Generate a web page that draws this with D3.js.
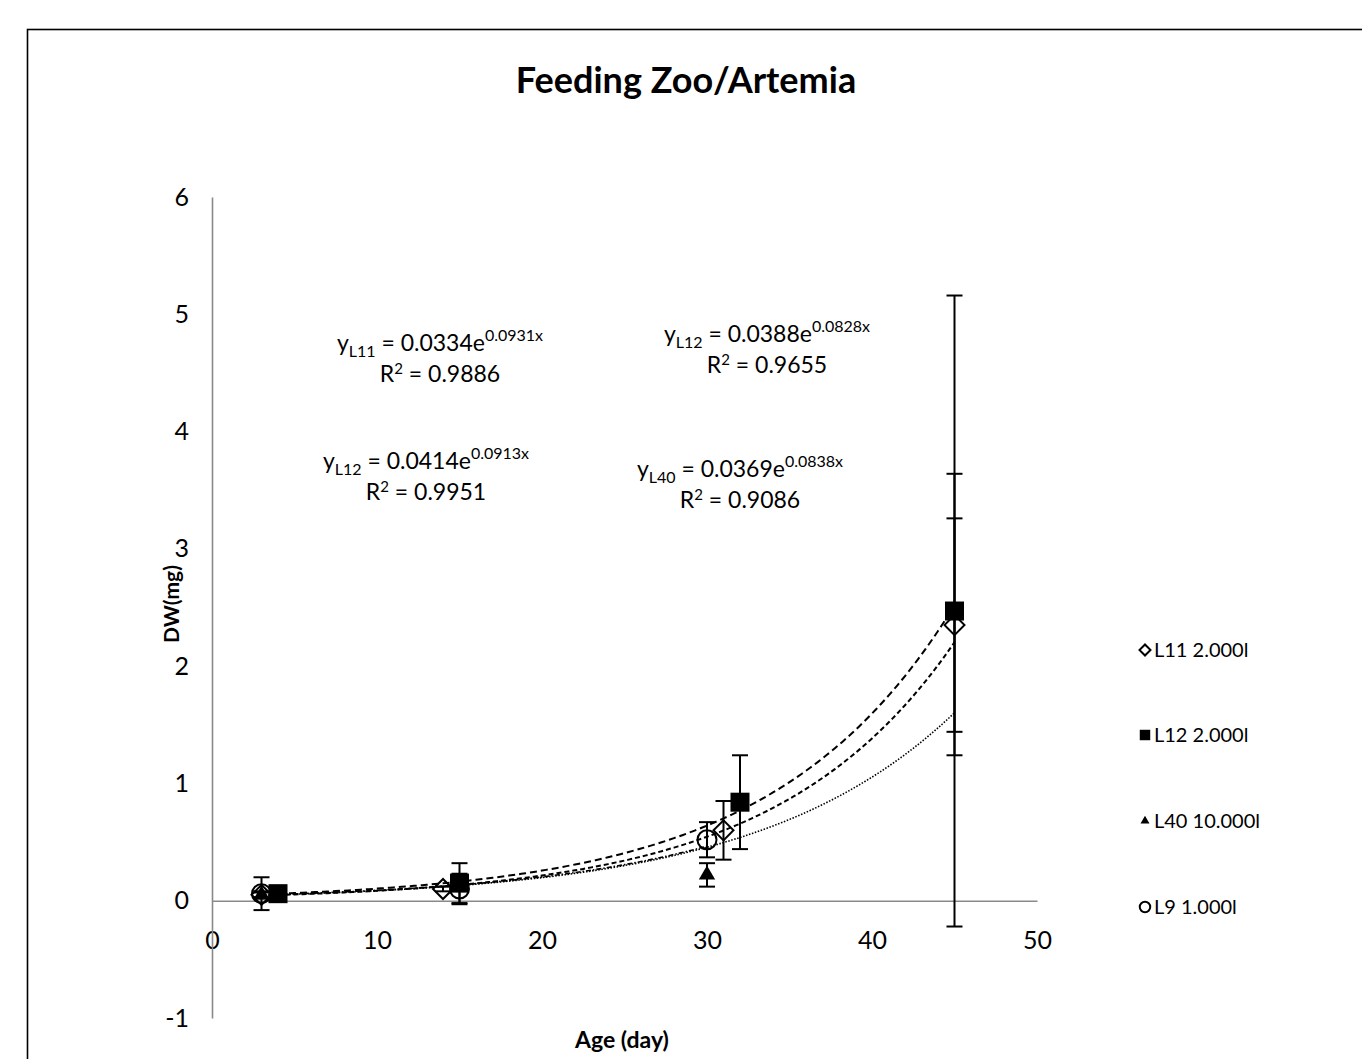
<!DOCTYPE html>
<html>
<head>
<meta charset="utf-8">
<script src="https://cdn.jsdelivr.net/npm/d3@7"></script>
<style>
  body { margin: 0; background: #fff; }
  text { font-family: Lato, "Open Sans", sans-serif; fill: #000; }
</style>
</head>
<body>
<div id="chart"></div>
<script>
// series values
const seriesNames = ["L11 2.000l", "L12 2.000l", "L40 10.000l", "L9 1.000l"]

const l11Age = [3, 14, 31, 45]
const l11DW = [0.05, 0.10, 0.60, 2.35]
const l11Err = [0.03, 0.02, 0.25, 0.91]

const l12Age = [4, 15, 32, 45]
const l12DW = [0.06, 0.15, 0.84, 2.47]
const l12Err = [0.02, 0.17, 0.40, 2.69]

// last L40 point is hidden behind the L12 square
const l40Age = [3, 30, 45]
const l40DW = [0.05, 0.22, 2.44]
const l40Err = [0.02, 0.10, 1.20]

const l9Age = [3, 15, 30]
const l9DW = [0.06, 0.10, 0.52]
const l9Err = [0.14, 0.13, 0.15]

// exponential trendlines y = a e^(b x), as printed on the chart
const fitA = [0.0334, 0.0414, 0.0369, 0.0388]
const fitB = [0.0931, 0.0913, 0.0838, 0.0828]
const fitFrom = [3, 4, 3, 3]
const fitTo = [45, 45, 45, 30]

// equation labels
const eqSub = ["L11", "L12", "L40", "L12"]
const eqCoef = ["0.0334", "0.0414", "0.0369", "0.0388"]
const eqExp = ["0.0931x", "0.0913x", "0.0838x", "0.0828x"]
const eqR2 = ["0.9886", "0.9951", "0.9086", "0.9655"]

const xTicks = [0, 10, 20, 30, 40, 50]
const yTicks = [-1, 0, 1, 2, 3, 4, 5, 6]

const width = 1362
const height = 1059

const svg = d3.select("#chart").append("svg")
  .attr("width", width)
  .attr("height", height)

// chart area border
svg.append("rect")
  .attr("x", 27.5).attr("y", 29.5)
  .attr("width", 1400).attr("height", 1100)
  .attr("fill", "#fff")
  .attr("stroke", "#000")
  .attr("stroke-width", 1.6)

const x = d3.scaleLinear().domain([0, 50]).range([212, 1037])
const y = d3.scaleLinear().domain([-1, 6]).range([1018, 197])

// title
svg.append("text")
  .attr("x", 686).attr("y", 93)
  .attr("text-anchor", "middle")
  .style("font-size", "36px").style("font-weight", "bold")
  .text("Feeding Zoo/Artemia")

// axes
svg.append("g")
  .attr("transform", "translate(0," + y(0) + ")")
  .call(d3.axisBottom(x).tickValues(xTicks).tickSize(0).tickPadding(31).tickFormat(d => String(d)))
svg.append("g")
  .attr("transform", "translate(" + x(0) + ",0)")
  .call(d3.axisLeft(y).tickValues(yTicks).tickSize(0).tickPadding(23).tickFormat(d => String(d)))

svg.selectAll(".domain").attr("stroke", "#898989").attr("stroke-width", 1.6)
svg.selectAll(".tick text")
  .style("font-family", "Lato, sans-serif")
  .style("font-size", "25px")
  .attr("fill", "#000")

// axis titles
svg.append("text")
  .attr("transform", "translate(179,604) rotate(-90)")
  .attr("text-anchor", "middle")
  .style("font-size", "21px").style("font-weight", "bold")
  .text("DW(mg)")
svg.append("text")
  .attr("x", 622).attr("y", 1048)
  .attr("text-anchor", "middle")
  .style("font-size", "23px").style("font-weight", "bold")
  .text("Age (day)")

// trendlines
const dashes = ["5,3", "7,4", "1.5,1.6", "5,2,1.5,2"]
const widths = [2, 2, 1.6, 1.6]
const line = d3.line().x(d => x(d[0])).y(d => y(d[1]))
fitA.forEach((a, i) => {
  const pts = d3.range(fitFrom[i], fitTo[i] + 0.001, 0.25).map(v => [v, a * Math.exp(fitB[i] * v)])
  svg.append("path")
    .attr("d", line(pts))
    .attr("fill", "none")
    .attr("stroke", "#000")
    .attr("stroke-width", widths[i])
    .attr("stroke-dasharray", dashes[i])
})

const series = [
  { name: seriesNames[0], age: l11Age, dw: l11DW, err: l11Err, shape: "diamond" },
  { name: seriesNames[1], age: l12Age, dw: l12DW, err: l12Err, shape: "square" },
  { name: seriesNames[2], age: l40Age, dw: l40DW, err: l40Err, shape: "triangle" },
  { name: seriesNames[3], age: l9Age, dw: l9DW, err: l9Err, shape: "circle" },
]

// error bars
series.forEach(s => {
  const g = svg.append("g").attr("stroke", "#000").attr("stroke-width", 2)
  s.age.forEach((a, i) => {
    const cx = x(a)
    const hi = y(s.dw[i] + s.err[i])
    const lo = y(s.dw[i] - s.err[i])
    g.append("line").attr("x1", cx).attr("x2", cx).attr("y1", hi).attr("y2", lo)
    g.append("line").attr("x1", cx - 8).attr("x2", cx + 8).attr("y1", hi).attr("y2", hi)
    g.append("line").attr("x1", cx - 8).attr("x2", cx + 8).attr("y1", lo).attr("y2", lo)
  })
})

function marker(g, shape, cx, cy, k) {
  if (shape === "square") {
    g.append("rect").attr("x", cx - 9.5 * k).attr("y", cy - 9.5 * k)
      .attr("width", 19 * k).attr("height", 19 * k).attr("fill", "#000")
  } else if (shape === "diamond") {
    g.append("path")
      .attr("d", d3.symbol().type(d3.symbolSquare).size(200 * k * k)())
      .attr("transform", "translate(" + cx + "," + cy + ") rotate(45)")
      .attr("fill", "none").attr("stroke", "#000").attr("stroke-width", 2)
  } else if (shape === "triangle") {
    g.append("path")
      .attr("d", d3.symbol().type(d3.symbolTriangle).size(115 * k * k)())
      .attr("transform", "translate(" + cx + "," + cy + ")")
      .attr("fill", "#000")
  } else {
    g.append("circle").attr("cx", cx).attr("cy", cy).attr("r", 9.5 * k)
      .attr("fill", "none").attr("stroke", "#000").attr("stroke-width", 2)
  }
}

// markers: L40 first so its hidden point sits under the squares
const drawOrder = [2, 0, 1, 3]
drawOrder.forEach(j => {
  const s = series[j]
  const g = svg.append("g")
  s.age.forEach((a, i) => marker(g, s.shape, x(a), y(s.dw[i]), 1))
})

// legend
const legendY = [650, 735, 821, 907]
series.forEach((s, i) => {
  const g = svg.append("g")
  marker(g, s.shape, 1145, legendY[i], 0.55)
  g.append("text")
    .attr("x", 1154).attr("y", legendY[i] + 7)
    .style("font-size", "20px")
    .text(s.name)
})

// equation labels
const eqX = [440, 426, 740, 767]
const eqY = [351, 469, 477, 342]
eqCoef.forEach((c, i) => {
  const t = svg.append("text")
    .attr("x", eqX[i]).attr("y", eqY[i])
    .attr("text-anchor", "middle")
    .style("font-size", "23px")
  t.append("tspan").text("y")
  t.append("tspan").attr("dy", 6).style("font-size", "16px").text(eqSub[i])
  t.append("tspan").attr("dy", -6).text(" = " + c + "e")
  t.append("tspan").attr("dy", -10).style("font-size", "16px").text(eqExp[i])

  const r = svg.append("text")
    .attr("x", eqX[i]).attr("y", eqY[i] + 31)
    .attr("text-anchor", "middle")
    .style("font-size", "23px")
  r.append("tspan").text("R")
  r.append("tspan").attr("dy", -8).style("font-size", "15px").text("2")
  r.append("tspan").attr("dy", 8).text(" = " + eqR2[i])
})
</script>
</body>
</html>
